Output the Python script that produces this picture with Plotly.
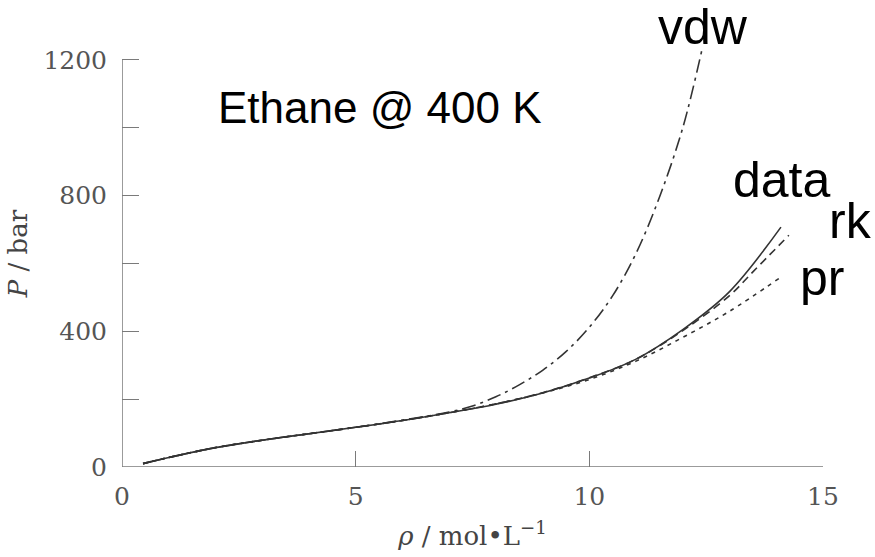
import plotly.graph_objects as go

# ---- data ----
rho_data = [0.45, 1, 2, 3, 4, 5, 6, 7, 8, 9, 10, 11, 12, 13, 14.1]
p_data = [10, 28, 57, 79, 98, 117, 137, 160, 185, 218, 262, 318, 405, 517, 707]

rho_vdw = [0.45, 1, 2, 3, 4, 5, 6, 7, 7.5, 8, 8.5, 9, 9.5, 10, 10.5, 11, 11.5, 12, 12.41]
p_vdw = [10, 28, 57, 79, 98, 117, 138, 162, 180, 207, 242, 285, 340, 412, 505, 630, 795, 1000, 1230]

rho_rk = [0.45, 1, 2, 3, 4, 5, 6, 7, 8, 9, 10, 11, 12, 13, 13.5, 14.27]
p_rk = [10, 28, 57, 79, 98, 117, 137, 160, 186, 219, 263, 318, 402, 505, 575, 683]

rho_pr = [0.45, 1, 2, 3, 4, 5, 6, 7, 8, 9, 10, 11, 12, 13, 14.06]
p_pr = [10, 28, 57, 79, 98, 117, 137, 160, 186, 218, 258, 312, 382, 459, 556]

y_ticks = [0, 200, 400, 600, 800, 1000, 1200]
y_ticktext = ["0", "", "400", "", "800", "", "1200"]
x_ticks = [0, 5, 10, 15]

LINE = "#333333"
AXIS = "#7a7a7a"
SERIF = "DejaVu Serif, Liberation Serif, serif"

fig = go.Figure()
fig.add_trace(go.Scatter(x=rho_vdw, y=p_vdw, mode="lines", line=dict(color=LINE, width=1.6, dash="14px,5px,3px,5px", shape="spline"), name="vdw"))
fig.add_trace(go.Scatter(x=rho_rk, y=p_rk, mode="lines", line=dict(color=LINE, width=1.6, dash="8px,5px", shape="spline"), name="rk"))
fig.add_trace(go.Scatter(x=rho_pr, y=p_pr, mode="lines", line=dict(color=LINE, width=1.6, dash="4px,5px", shape="spline"), name="pr"))
fig.add_trace(go.Scatter(x=rho_data, y=p_data, mode="lines", line=dict(color=LINE, width=1.6, shape="spline"), name="data"))

# axis lines drawn only over the labelled span
fig.add_shape(type="line", x0=0, x1=0, y0=0, y1=1200, xref="x", yref="y", line=dict(color=AXIS, width=1.5))
fig.add_shape(type="line", x0=0, x1=15, y0=0, y1=0, xref="x", yref="y", line=dict(color=AXIS, width=1.5))

L, R, T, B = 122, 52, 40, 87
W, H = 875, 557
pw, ph = W - L - R, H - T - B


def px(xp):
    return (xp - L) / pw


def py(yp):
    return (H - B - yp) / ph


tick_font = dict(family=SERIF, size=25, color="#555555")
title_font = dict(family=SERIF, size=26, color="#444444")
label_font = dict(family="Liberation Sans, Arial, sans-serif", size=50, color="#000000")

fig.update_layout(
    width=W, height=H,
    margin=dict(l=L, r=R, t=T, b=B),
    plot_bgcolor="white", paper_bgcolor="white",
    showlegend=False,
    xaxis=dict(range=[0, 15], showline=False, showgrid=False, zeroline=False,
               tickmode="array", tickvals=x_ticks, ticks="inside", ticklen=16, tickwidth=1.2, tickcolor=AXIS,
               tickfont=tick_font, ticklabelstandoff=12,
               title=dict(text="<i>ρ</i> / mol•L<sup>−1</sup>", font=title_font, standoff=16)),
    yaxis=dict(range=[0, ph / 0.3417], showline=False, showgrid=False, zeroline=False,
               tickmode="array", tickvals=y_ticks, ticktext=y_ticktext, ticks="inside", ticklen=17, tickwidth=1.2, tickcolor=AXIS,
               tickfont=tick_font, ticklabelstandoff=14,
               title=dict(text="<i>P</i> / bar", font=title_font, standoff=8)),
)

annos = [
    ("vdw", 656, 27),
    ("data", 731, 181),
    ("rk", 827, 222),
    ("pr", 798, 280),
]
for txt, xp, yp in annos:
    fig.add_annotation(text=txt, x=px(xp), y=py(yp), xref="paper", yref="paper", xanchor="left", yanchor="middle",
                       showarrow=False, font=label_font)
fig.add_annotation(text="Ethane @ 400 K", x=px(216), y=py(108), xref="paper", yref="paper", xanchor="left", yanchor="middle",
                   showarrow=False, font=dict(family="Liberation Sans, Arial, sans-serif", size=44, color="#000000"))

fig.write_html("out.html")
